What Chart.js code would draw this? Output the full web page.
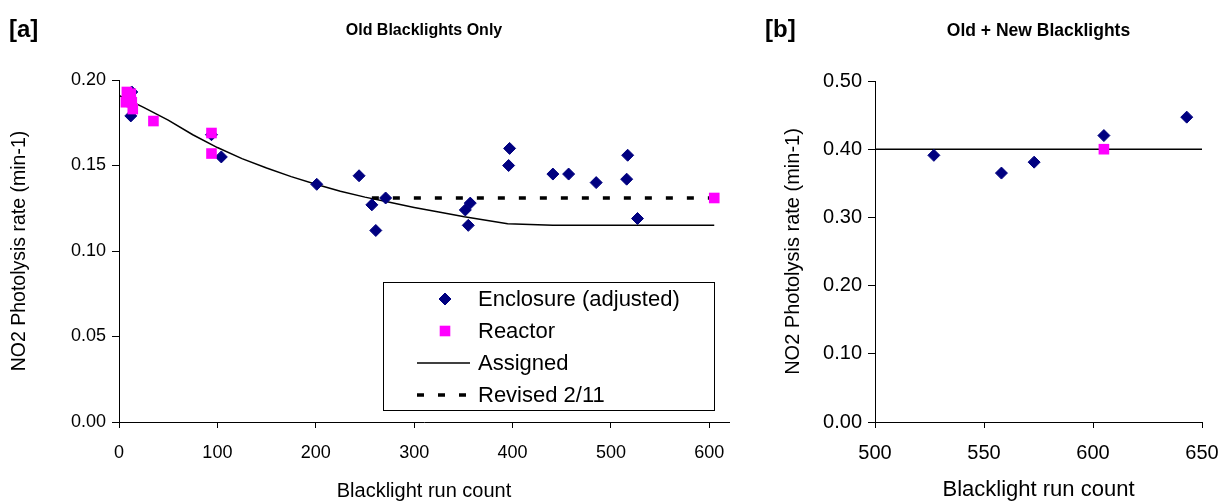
<!DOCTYPE html>
<html>
<head>
<meta charset="utf-8">
<script src="https://cdn.jsdelivr.net/npm/chart.js@4.4.1/dist/chart.umd.min.js"></script>
<style>
  html, body { margin: 0; padding: 0; background: #fff; }
  .panel { position: absolute; top: 0; height: 504px; }
  #panelA { left: 0; width: 760px; }
  #panelB { left: 760px; width: 463px; }
</style>
</head>
<body>
<div class="panel" id="panelA"><canvas id="chartA"></canvas></div>
<div class="panel" id="panelB"><canvas id="chartB"></canvas></div>
<script>
// [a] old blacklights only
const enclRunA  = [13, 12, 94, 104, 201, 244, 257, 261, 271, 352, 355, 357, 396, 397, 441, 457, 485, 516, 517, 527];
const enclRateA = [0.193, 0.179, 0.168, 0.155, 0.139, 0.144, 0.127, 0.112, 0.131, 0.124, 0.115, 0.128, 0.150, 0.160, 0.145, 0.145, 0.140, 0.142, 0.156, 0.119];
const reacRunA  = [8, 12, 7, 13, 14, 35, 94, 94, 605];
const reacRateA = [0.193, 0.192, 0.187, 0.187, 0.183, 0.176, 0.169, 0.157, 0.131];
const assignedRunA  = [0, 25, 50, 75, 100, 125, 150, 175, 200, 225, 250, 275, 300, 325, 351, 395, 441, 605];
const assignedRateA = [0.191, 0.184, 0.1765, 0.168, 0.1605, 0.154, 0.1485, 0.1435, 0.139, 0.135, 0.1315, 0.1285, 0.1255, 0.1228, 0.120, 0.116, 0.115, 0.115];
const revisedRunA  = [257, 605];
const revisedRateA = [0.131, 0.131];

// [b] old + new blacklights
const enclRunB  = [527, 558, 573, 605, 643];
const enclRateB = [0.391, 0.365, 0.381, 0.420, 0.447];
const reacRunB  = [605];
const reacRateB = [0.400];
const assignedRunB  = [500, 650];
const assignedRateB = [0.40, 0.40];

const FONT = '"Liberation Sans", Arial, sans-serif';
Chart.defaults.font.family = FONT;
Chart.defaults.font.size = 20;
Chart.defaults.color = '#000';

const pts = (xs, ys) => xs.map((x, i) => ({ x, y: ys[i] }));

function enclosureSet(xs, ys) {
  return {
    label: 'Enclosure (adjusted)', data: pts(xs, ys), order: 1,
    pointStyle: 'rectRot', pointRadius: 6, pointBorderWidth: 1,
    backgroundColor: '#000080', borderColor: '#000080',
  };
}
function reactorSet(xs, ys) {
  return {
    label: 'Reactor', data: pts(xs, ys), order: 0,
    pointStyle: 'rect', pointRadius: 7.5, pointBorderWidth: 0,
    backgroundColor: '#ff00ff', borderColor: '#ff00ff',
  };
}
function lineSet(label, xs, ys, extra) {
  return Object.assign({
    label, data: pts(xs, ys), showLine: true, pointRadius: 0,
    borderColor: '#000', backgroundColor: '#000', borderWidth: 1.5, fill: false,
  }, extra);
}

// panel tag and bold heading above the plot area
const panelHeading = {
  id: 'panelHeading',
  afterDraw(chart, args, opts) {
    const { ctx, chartArea } = chart;
    ctx.save();
    ctx.fillStyle = '#000';
    ctx.textBaseline = 'middle';
    ctx.textAlign = 'left';
    ctx.font = 'bold 24px ' + FONT;
    ctx.fillText(opts.tag, opts.tagX, 30);
    ctx.textAlign = 'center';
    ctx.font = 'bold ' + opts.titleSize + 'px ' + FONT;
    ctx.fillText(opts.title, (chartArea.left + chartArea.right) / 2, 31);
    ctx.restore();
  }
};

// framed legend sitting inside the plot
const boxLegend = {
  id: 'boxLegend',
  afterDatasetsDraw(chart, args, opts) {
    if (!opts.display) return;
    const { ctx } = chart;
    const { left, top, width, height, rowGap } = opts;
    ctx.save();
    ctx.fillStyle = '#fff';
    ctx.fillRect(left, top, width, height);
    ctx.strokeStyle = '#000';
    ctx.lineWidth = 1;
    ctx.strokeRect(left + 0.5, top + 0.5, width, height);
    ctx.font = '22px ' + FONT;
    ctx.textBaseline = 'middle';
    chart.data.datasets.forEach((ds, i) => {
      const y = top + opts.firstRow + i * rowGap;
      if (ds.showLine) {
        ctx.beginPath();
        ctx.setLineDash(ds.borderDash || []);
        ctx.lineWidth = ds.borderWidth;
        ctx.strokeStyle = ds.borderColor;
        ctx.moveTo(left + opts.lineFrom, y);
        ctx.lineTo(left + opts.lineTo, y);
        ctx.stroke();
        ctx.setLineDash([]);
      } else {
        ctx.fillStyle = ds.backgroundColor;
        ctx.strokeStyle = ds.borderColor;
        Chart.helpers.drawPoint(ctx, {
          pointStyle: ds.pointStyle, radius: ds.pointRadius,
          borderWidth: ds.pointBorderWidth, rotation: 0,
        }, left + opts.markX, y);
      }
      ctx.fillStyle = '#000';
      ctx.fillText(ds.label, left + opts.textX, y + 1);
    });
    ctx.restore();
  }
};

function axes(cfg) {
  return {
    x: {
      type: 'linear', min: cfg.xMin, max: cfg.xMax,
      ticks: { stepSize: cfg.xStep, includeBounds: false, padding: cfg.xTickPad, maxRotation: 0, font: { size: cfg.tickSize } },
      grid: { drawOnChartArea: false, tickLength: 6, color: '#000' },
      border: { color: '#000', width: 1 },
      title: { display: true, text: 'Blacklight run count', font: { size: cfg.xTitleSize }, padding: { bottom: 1 } },
      afterFit(scale) {
        // plot edges are fixed by layout padding, not by label overhang
        scale.height = 82;
        scale.paddingLeft = 0;
        scale.paddingRight = 0;
      },
    },
    y: {
      min: 0, max: cfg.yMax,
      ticks: { stepSize: cfg.yStep, padding: 6, font: { size: cfg.tickSize }, callback: v => v.toFixed(2) },
      grid: { drawOnChartArea: false, tickLength: 7, color: '#000' },
      border: { color: '#000', width: 1 },
      title: { display: true, text: 'NO2 Photolysis rate (min-1)', font: { size: cfg.yTitleSize }, padding: { top: cfg.yTitlePad } },
      afterFit(scale) { scale.width = cfg.yWidth; },
    },
  };
}

const baseOptions = {
  responsive: true,
  maintainAspectRatio: false,
  animation: false,
  events: [],
};

new Chart(document.getElementById('chartA'), {
  type: 'scatter',
  data: {
    datasets: [
      enclosureSet(enclRunA, enclRateA),
      reactorSet(reacRunA, reacRateA),
      lineSet('Assigned', assignedRunA, assignedRateA, { order: 3 }),
      lineSet('Revised 2/11', revisedRunA, revisedRateA, { order: 2, borderWidth: 3.5, borderDash: [7, 14] }),
    ],
  },
  options: {
    ...baseOptions,
    layout: { padding: { top: 80, right: 31, left: 0, bottom: 0 } },
    scales: axes({
      xMin: 0, xMax: 620, xStep: 100, yMax: 0.2, yStep: 0.05, yWidth: 119,
      tickSize: 18, xTickPad: 14, xTitleSize: 20, yTitleSize: 19.5, yTitlePad: 8,
    }),
    plugins: {
      legend: { display: false },
      tooltip: { enabled: false },
      panelHeading: { tag: '[a]', tagX: 9, title: 'Old Blacklights Only', titleSize: 16 },
      boxLegend: {
        display: true, left: 383, top: 282, width: 331, height: 128,
        firstRow: 17, rowGap: 32, markX: 62, lineFrom: 34, lineTo: 87, textX: 95,
      },
    },
  },
  plugins: [panelHeading, boxLegend],
});

new Chart(document.getElementById('chartB'), {
  type: 'scatter',
  data: {
    datasets: [
      enclosureSet(enclRunB, enclRateB),
      reactorSet(reacRunB, reacRateB),
      lineSet('Assigned', assignedRunB, assignedRateB, { order: 3 }),
    ],
  },
  options: {
    ...baseOptions,
    layout: { padding: { top: 81, right: 21, left: 0, bottom: 0 } },
    scales: axes({
      xMin: 500, xMax: 650, xStep: 50, yMax: 0.5, yStep: 0.1, yWidth: 115,
      tickSize: 20, xTickPad: 13, xTitleSize: 22, yTitleSize: 20, yTitlePad: 21,
    }),
    plugins: {
      legend: { display: false },
      tooltip: { enabled: false },
      panelHeading: { tag: '[b]', tagX: 5, title: 'Old + New Blacklights', titleSize: 17.5 },
      boxLegend: { display: false },
    },
  },
  plugins: [panelHeading, boxLegend],
});
</script>
</body>
</html>
